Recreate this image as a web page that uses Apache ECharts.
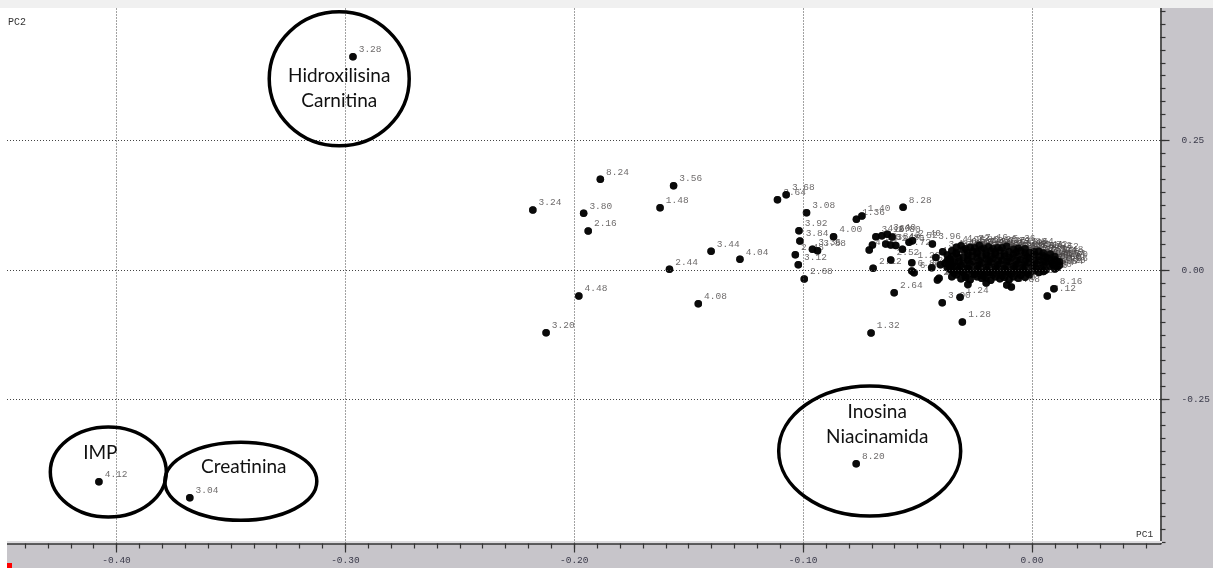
<!DOCTYPE html>
<html>
<head>
<meta charset="utf-8">
<script src="https://cdn.jsdelivr.net/npm/echarts@6/dist/echarts.min.js"></script>
<style>
html,body{margin:0;padding:0;background:#fff;}
#chart{width:1213px;height:568px;}
</style>
</head>
<body>
<div id="chart"></div>
<script>
// ---- data: [label, PC1, PC2] ----
const farScores = [
  ["3.28",-0.2967,0.4118],
  ["4.12",-0.4077,-0.4087],
  ["3.04",-0.3680,-0.4396],
  ["8.20",-0.0768,-0.3739],
  ["3.24",-0.2181,0.1158],
  ["8.24",-0.1886,0.1751],
  ["3.80",-0.1959,0.1095],
  ["2.16",-0.1939,0.0753],
  ["3.56",-0.1566,0.1627],
  ["1.48",-0.1625,0.1203],
  ["3.44",-0.1402,0.0361],
  ["4.04",-0.1276,0.0207],
  ["2.44",-0.1584,0.0014],
  ["4.48",-0.1980,-0.0502],
  ["4.08",-0.1458,-0.0651],
  ["3.20",-0.2123,-0.1210]
];
const midScores = [
  ["3.64",-0.1112,0.1357],
  ["3.68",-0.1074,0.1454],
  ["3.08",-0.0985,0.1106],
  ["3.92",-0.1018,0.0759],
  ["3.84",-0.1014,0.0560],
  ["2.48",-0.1034,0.0295],
  ["3.12",-0.1021,0.0102],
  ["2.68",-0.0995,-0.0174],
  ["3.36",-0.0959,0.0400],
  ["3.88",-0.0937,0.0373],
  ["4.00",-0.0867,0.0643],
  ["1.40",-0.0743,0.1042],
  ["1.36",-0.0767,0.0979],
  ["8.28",-0.0563,0.1210],
  ["1.32",-0.0703,-0.1216],
  ["2.64",-0.0602,-0.0438],
  ["3.00",-0.0392,-0.0631],
  ["1.24",-0.0314,-0.0527],
  ["1.28",-0.0304,-0.1004],
  ["8.12",0.0067,-0.0502],
  ["8.16",0.0096,-0.0361],
  ["3.16",-0.0682,0.0643],
  ["4.60",-0.0656,0.0662],
  ["3.40",-0.0632,0.0689],
  ["2.80",-0.0611,0.0637],
  ["4.20",-0.0697,0.0483],
  ["4.24",-0.0711,0.0386],
  ["2.84",-0.0639,0.0502],
  ["3.48",-0.0617,0.0483],
  ["2.76",-0.0595,0.0473],
  ["3.52",-0.0537,0.0535],
  ["2.40",-0.0522,0.0566],
  ["3.96",-0.0435,0.0502],
  ["2.72",-0.0566,0.0400],
  ["2.52",-0.0617,0.0193],
  ["2.12",-0.0694,0.0033],
  ["1.20",-0.0525,0.0141],
  ["6.84",-0.0525,-0.0019],
  ["6.88",-0.0515,-0.0052],
  ["2.56",-0.0438,0.0044],
  ["2.92",-0.0406,-0.0160],
  ["2.96",-0.0413,-0.0193],
  ["2.28",-0.0362,0.0097],
  ["2.32",-0.0355,0.0193]
];
const coreScores = [
  ["4.72",-0.031,0.047],["2.88",-0.027,0.044],["7.16",-0.023,0.048],["2.20",-0.019,0.045],["6.20",-0.015,0.043],["5.36",-0.011,0.046],["3.88",-0.006,0.042],
  ["4.16",-0.035,0.037],["4.52",-0.030,0.039],["2.36",-0.026,0.036],["6.96",-0.022,0.040],["5.48",-0.018,0.037],["4.36",-0.014,0.038],["6.36",-0.010,0.035],["5.88",-0.005,0.037],["3.72",-0.001,0.034],["5.72",0.003,0.036],
  ["4.44",-0.037,0.029],["2.04",-0.033,0.031],["4.68",-0.028,0.028],["5.12",-0.024,0.032],["6.04",-0.020,0.029],["4.28",-0.016,0.030],["7.48",-0.012,0.027],["5.56",-0.008,0.031],["6.08",-0.003,0.028],["2.60",0.001,0.030],["7.72",0.005,0.027],["5.52",0.008,0.031],
  ["1.84",-0.036,0.021],["4.80",-0.032,0.023],["3.32",-0.028,0.020],["5.92",-0.024,0.024],["6.76",-0.020,0.021],["4.92",-0.017,0.022],["5.24",-0.013,0.019],["7.84",-0.009,0.023],["6.52",-0.005,0.020],["5.64",-0.001,0.022],["6.12",0.003,0.019],["7.24",0.007,0.023],["4.40",0.010,0.020],
  ["1.96",-0.038,0.013],["5.16",-0.034,0.015],["6.64",-0.030,0.012],["2.24",-0.026,0.016],["5.80",-0.022,0.013],["6.48",-0.018,0.015],["7.32",-0.014,0.012],["4.84",-0.010,0.016],["5.20",-0.006,0.013],["7.04",-0.002,0.014],["6.68",0.002,0.012],["5.96",0.006,0.015],["7.60",0.009,0.013],["6.00",0.012,0.016],
  ["1.76",-0.037,0.005],["2.08",-0.033,0.007],["5.04",-0.028,0.004],["6.44",-0.024,0.008],["4.64",-0.020,0.005],["5.60",-0.016,0.006],["6.28",-0.012,0.003],["7.40",-0.008,0.007],["5.32",-0.004,0.005],["6.92",0.000,0.006],["7.12",0.004,0.004],["5.40",0.008,0.007],["7.20",0.011,0.005],
  ["1.88",-0.035,-0.001],["3.60",-0.031,-0.003],["5.08",-0.027,0.000],["4.32",-0.023,-0.002],["6.60",-0.019,-0.004],["5.84",-0.015,-0.001],["7.08",-0.011,-0.003],["6.16",-0.007,0.000],["5.28",-0.003,-0.002],["6.72",0.001,-0.001],["7.00",0.005,-0.003],
  ["1.92",-0.033,-0.009],["4.76",-0.029,-0.011],["6.24",-0.025,-0.008],["5.44",-0.021,-0.012],["6.80",-0.017,-0.009],["5.00",-0.013,-0.011],["7.36",-0.009,-0.008],["6.56",-0.005,-0.010],["7.52",-0.001,-0.009],
  ["1.72",-0.031,-0.017],["4.88",-0.027,-0.019],["6.84",-0.022,-0.016],["5.68",-0.018,-0.020],["7.28",-0.014,-0.017],["6.32",-0.010,-0.019],["7.44",-0.006,-0.016],
  ["1.80",-0.028,-0.028],["6.40",-0.011,-0.029],["6.88",-0.009,-0.033],["5.76",-0.020,-0.025],["2.00",-0.035,-0.013],["1.68",-0.040,0.010],["4.52",-0.042,0.024],["3.76",-0.039,0.035],["4.96",-0.033,0.044]
];
const denseScores = [
  ["6.44",-0.029,0.041],["5.12",-0.025,0.043],["7.56",-0.021,0.042],["4.60",-0.017,0.041],["6.72",-0.013,0.043],["5.20",-0.008,0.040],["7.64",-0.003,0.041],
  ["4.20",-0.033,0.034],["5.28",-0.028,0.033],["6.16",-0.024,0.035],["7.80",-0.020,0.033],["4.56",-0.016,0.034],["5.76",-0.012,0.032],["6.40",-0.007,0.034],["7.68",-0.003,0.033],["5.44",0.001,0.035],["6.92",0.005,0.033],
  ["4.32",-0.035,0.026],["5.88",-0.030,0.025],["6.28",-0.026,0.027],["7.36",-0.022,0.026],["4.72",-0.018,0.025],["5.32",-0.014,0.026],["6.60",-0.010,0.024],["7.92",-0.006,0.026],["5.16",-0.002,0.025],["6.36",0.003,0.026],["7.76",0.006,0.024],["5.48",0.010,0.026],
  ["4.44",-0.037,0.018],["5.04",-0.032,0.017],["6.00",-0.028,0.019],["7.12",-0.023,0.018],["4.88",-0.019,0.017],["5.68",-0.015,0.018],["6.76",-0.011,0.016],["7.88",-0.007,0.018],["5.36",-0.003,0.017],["6.24",0.001,0.018],["7.00",0.005,0.016],["5.56",0.008,0.018],["6.64",0.011,0.017],
  ["4.00",-0.035,0.010],["5.92",-0.031,0.009],["6.08",-0.027,0.011],["7.44",-0.023,0.010],["4.92",-0.019,0.009],["5.64",-0.015,0.010],["6.52",-0.011,0.008],["7.28",-0.007,0.010],["5.24",-0.003,0.009],["6.32",0.001,0.011],["7.20",0.005,0.009],["5.80",0.009,0.010],["6.96",0.012,0.009],
  ["4.16",-0.036,0.002],["5.00",-0.032,0.001],["6.12",-0.028,0.003],["7.52",-0.024,0.002],["4.80",-0.020,0.000],["5.72",-0.016,0.002],["6.68",-0.012,0.001],["7.32",-0.008,0.003],["5.40",-0.004,0.001],["6.20",0.002,0.002],["7.04",0.006,0.000],["5.84",0.010,0.002],
  ["4.36",-0.034,-0.006],["5.52",-0.030,-0.005],["6.48",-0.026,-0.007],["7.60",-0.022,-0.006],["4.64",-0.018,-0.005],["5.96",-0.014,-0.007],["6.80",-0.010,-0.006],["7.16",-0.006,-0.005],["5.08",-0.002,-0.006],["6.56",0.003,-0.005],
  ["4.40",-0.029,-0.014],["5.60",-0.024,-0.013],["6.44",-0.020,-0.015],["7.40",-0.016,-0.013],["4.84",-0.012,-0.014],["5.12",-0.008,-0.013],["6.88",-0.003,-0.014]
];
// tick positions / labels
const xTickValues = [-0.4,-0.3,-0.2,-0.1,0];
const yTickValues = [-0.25,0,0.25];
const xAxisName = "PC1";
const yAxisName = "PC2";
// annotation groups: text lines and the data point they surround
const groups = [
  {lines:["Hidroxilisina","Carnitina"], at:[-0.3027,0.3691]},
  {lines:["IMP"], at:[-0.4036,-0.3900]},
  {lines:["Creatinina"], at:[-0.3457,-0.4079]},
  {lines:["Inosina","Niacinamida"], at:[-0.0709,-0.3494]}
];

// ---- styles / layout ----
const X_MIN = -0.44787, X_MAX = 0.05617, Y_MIN = -0.52799, Y_MAX = 0.50579;
const groupShapes = [
  {rx:70, ry:67, text:[[0,-3],[0,22]]},
  {rx:58, ry:45, text:[[-8,-19]]},
  {rx:76, ry:39, text:[[3,-14]]},
  {rx:91, ry:65, text:[[7.5,-39],[7.5,-14]]}
];
const xMinor = []; for (let i = -44; i <= 5; i++) xMinor.push(i/100);
const yMinor = []; for (let i = -21; i <= 20; i++) yMinor.push(i*0.025);

const allScores = farScores.concat(midScores, coreScores, denseScores);
const pts = allScores.map(r => ({value:[r[1], r[2]], name:r[0]}));

const monoFont = "'Liberation Mono', 'DejaVu Sans Mono', monospace";
const chart = echarts.init(document.getElementById('chart'), null, {renderer:'canvas'});
const grid = {left:7, right:51, top:8, bottom:24.5, show:true, backgroundColor:'#ffffff', borderWidth:0};
const axisBase = {type:'value', min:X_MIN, max:X_MAX, splitLine:{show:false}};
const option = {
  animation:false,
  backgroundColor:'#c7c5ca',
  grid:grid,
  xAxis:[
    Object.assign({}, axisBase, {
      position:'bottom',
      axisLine:{show:true, onZero:false, lineStyle:{color:'#333333', width:1.5}},
      axisTick:{show:true, customValues:xTickValues, length:9, lineStyle:{color:'#333', width:1.2}},
      axisLabel:{show:true, customValues:xTickValues, formatter:v=>v.toFixed(2), fontFamily:monoFont, fontSize:9.5, color:'#3a3a4a', margin:12}
    }),
    Object.assign({}, axisBase, {
      position:'bottom',
      axisLine:{show:false, onZero:false},
      axisTick:{show:true, customValues:xMinor, length:5, lineStyle:{color:'#333', width:1.2}},
      axisLabel:{show:false}
    })
  ],
  yAxis:[
    {type:'value', min:Y_MIN, max:Y_MAX, position:'right', splitLine:{show:false},
      axisLine:{show:true, onZero:false, lineStyle:{color:'#555555', width:2}},
      axisTick:{show:true, customValues:yTickValues, length:9, lineStyle:{color:'#333', width:1.2}},
      axisLabel:{show:true, customValues:yTickValues, formatter:v=>v.toFixed(2), fontFamily:monoFont, fontSize:9.5, color:'#3a3a4a', margin:21, align:'left'}
    },
    {type:'value', min:Y_MIN, max:Y_MAX, position:'right', splitLine:{show:false},
      axisLine:{show:false, onZero:false},
      axisTick:{show:true, customValues:yMinor, length:5, lineStyle:{color:'#333', width:1.2}},
      axisLabel:{show:false}
    }
  ],
  series:[
    {
      type:'scatter', z:2, silent:true,
      data:pts, symbol:'circle', symbolSize:7.5,
      itemStyle:{color:'#000'},
      label:{show:true, formatter:p=>p.name, position:[9.5,-3.5], align:'left', verticalAlign:'middle',
        fontFamily:monoFont, fontSize:9.5, color:'#4a4646'},
      labelLayout:{hideOverlap:false},
      markLine:{
        silent:true, symbol:['none','none'], label:{show:false}, animation:false,
        lineStyle:{type:[1,2], width:1, color:'#444'},
        data: xTickValues.map(v=>({xAxis:v})).concat(yTickValues.map(v=>({yAxis:v})))
      }
    },
    {
      type:'scatter', z:3, silent:true,
      data:pts, symbol:'circle', symbolSize:7.5,
      itemStyle:{color:'#000'}, label:{show:false}
    }
  ]
};
chart.setOption(option);

// decorations
const g = [
  {type:'rect', shape:{x:0,y:0,width:1213,height:8}, style:{fill:'#f0f0f0'}, z:1},
  {type:'rect', shape:{x:0,y:8,width:7,height:560}, style:{fill:'#ffffff'}, z:1},
  {type:'rect', shape:{x:7,y:541,width:1155,height:2}, style:{fill:'#dcdbde'}, z:1},
  {type:'rect', shape:{x:7,y:563,width:5,height:5}, style:{fill:'#ff0000'}, z:1},
  {type:'text', style:{text:yAxisName, x:8, y:22, font:"10px " + monoFont, fill:'#333', verticalAlign:'middle'}, z:5},
  {type:'text', style:{text:xAxisName, x:1136, y:534, font:"9.5px " + monoFont, fill:'#333', verticalAlign:'middle'}, z:5}
];
groups.forEach((grp, i) => {
  const c = chart.convertToPixel({xAxisIndex:0, yAxisIndex:0}, grp.at);
  const s = groupShapes[i];
  g.push({type:'ellipse', shape:{cx:c[0], cy:c[1], rx:s.rx, ry:s.ry}, style:{fill:null, stroke:'#000', lineWidth:3.5}, z:10});
  grp.lines.forEach((t, j) => {
    g.push({type:'text', style:{text:t, x:c[0]+s.text[j][0], y:c[1]+s.text[j][1], font:"19px Lato, 'Open Sans', sans-serif", fill:'#111', align:'center', verticalAlign:'middle'}, z:10});
  });
});
chart.setOption({graphic:g});
</script>
</body>
</html>
